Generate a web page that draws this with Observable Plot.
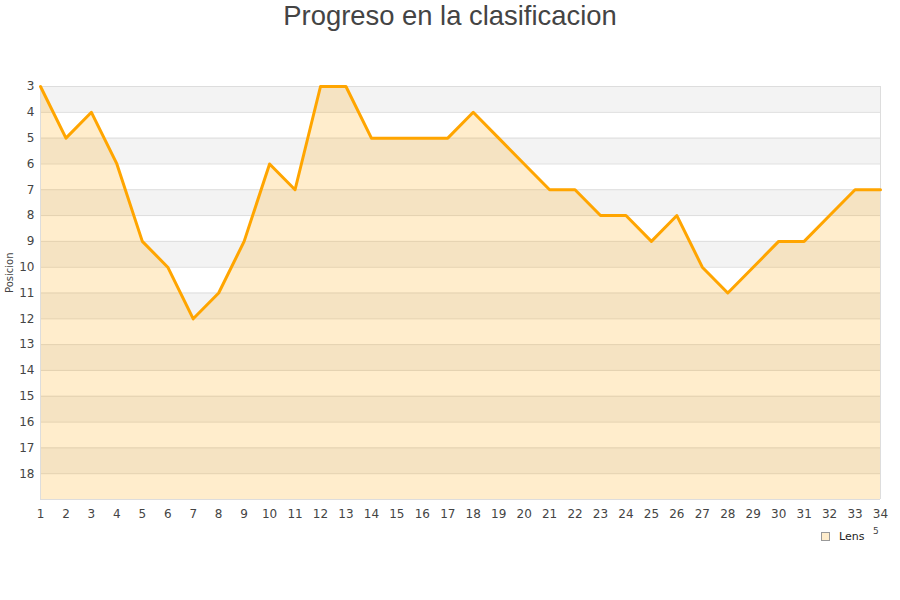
<!DOCTYPE html>
<html>
<head>
<meta charset="utf-8">
<script src="https://cdn.jsdelivr.net/npm/d3@7"></script>
<script src="https://cdn.jsdelivr.net/npm/@observablehq/plot@0.6"></script>
<style>
  body { margin: 0; background: #fff; }
  #wrap { position: relative; width: 900px; height: 600px; font-family: "DejaVu Sans", sans-serif; }
  #title { position: absolute; top: 0; left: 0; width: 900px; text-align: center; font-family: "Liberation Sans", Arial, sans-serif; font-size: 27.4px; color: #444; line-height: 32px; }
  #legend { position: absolute; left: 821px; top: 530px; font-size: 11px; color: #222; display: flex; align-items: center; }
  #legend .sw { width: 7px; height: 7px; background: #ffedcc; border: 1px solid #999; margin-right: 9px; }
  #stray { position: absolute; left: 873px; top: 526px; font-size: 9px; color: #444; }
</style>
</head>
<body>
<div id="wrap">
  <div id="title">Progreso en la clasificacion</div>
  <div id="chart"></div>
  <div id="legend"><div class="sw"></div><span>Lens</span></div>
  <div id="stray">5</div>
</div>
<script>
const jornadas = d3.range(1, 35);
const posiciones = [3,5,4,6,9,10,12,11,9,6,7,3,3,5,5,5,5,4,5,6,7,7,8,8,9,8,10,11,10,9,9,8,7,7];
const yTicks = d3.range(3, 19);
const bandStarts = [3,5,7,9,11,13,15,17];
const data = jornadas.map((j, i) => ({jornada: j, pos: posiciones[i]}));

const chart = Plot.plot({
  width: 900,
  height: 600,
  marginTop: 86,
  marginBottom: 101,
  marginLeft: 40,
  marginRight: 20,
  style: {fontFamily: "DejaVu Sans, sans-serif", fontSize: "11.5px", color: "#444", background: "transparent"},
  x: {domain: [1, 34], ticks: jornadas, tickSize: 0, label: null, tickFormat: d => d},
  y: {domain: [3, 19], reverse: true, ticks: yTicks, tickSize: 0, label: null},
  marks: [
    Plot.rect(bandStarts, {x1: () => 1, x2: () => 34, y1: d => d, y2: d => d + 1, fill: "#f3f3f3"}),
    Plot.ruleY(d3.range(3, 20), {stroke: "#dddddd", strokeWidth: 1}),
    Plot.areaY(data, {x: "jornada", y1: () => 19, y2: "pos", fill: "rgb(255,165,0)", fillOpacity: 0.2}),
    Plot.ruleX([1, 34], {stroke: "#dddddd", strokeWidth: 1}),
    Plot.lineY(data, {x: "jornada", y: "pos", stroke: "#ffa500", strokeWidth: 3}),
    Plot.axisX({ticks: jornadas, tickSize: 0, tickPadding: 10, label: null, fill: "#444", fontSize: 12}),
    Plot.axisY({ticks: yTicks, tickSize: 0, tickPadding: 6, label: null, fill: "#444", fontSize: 12}),
    Plot.text(["Posicion"], {frameAnchor: "left", dx: -31, rotate: -90, fontSize: 10, fill: "#444"})
  ]
});
document.getElementById("chart").appendChild(chart);
</script>
</body>
</html>
